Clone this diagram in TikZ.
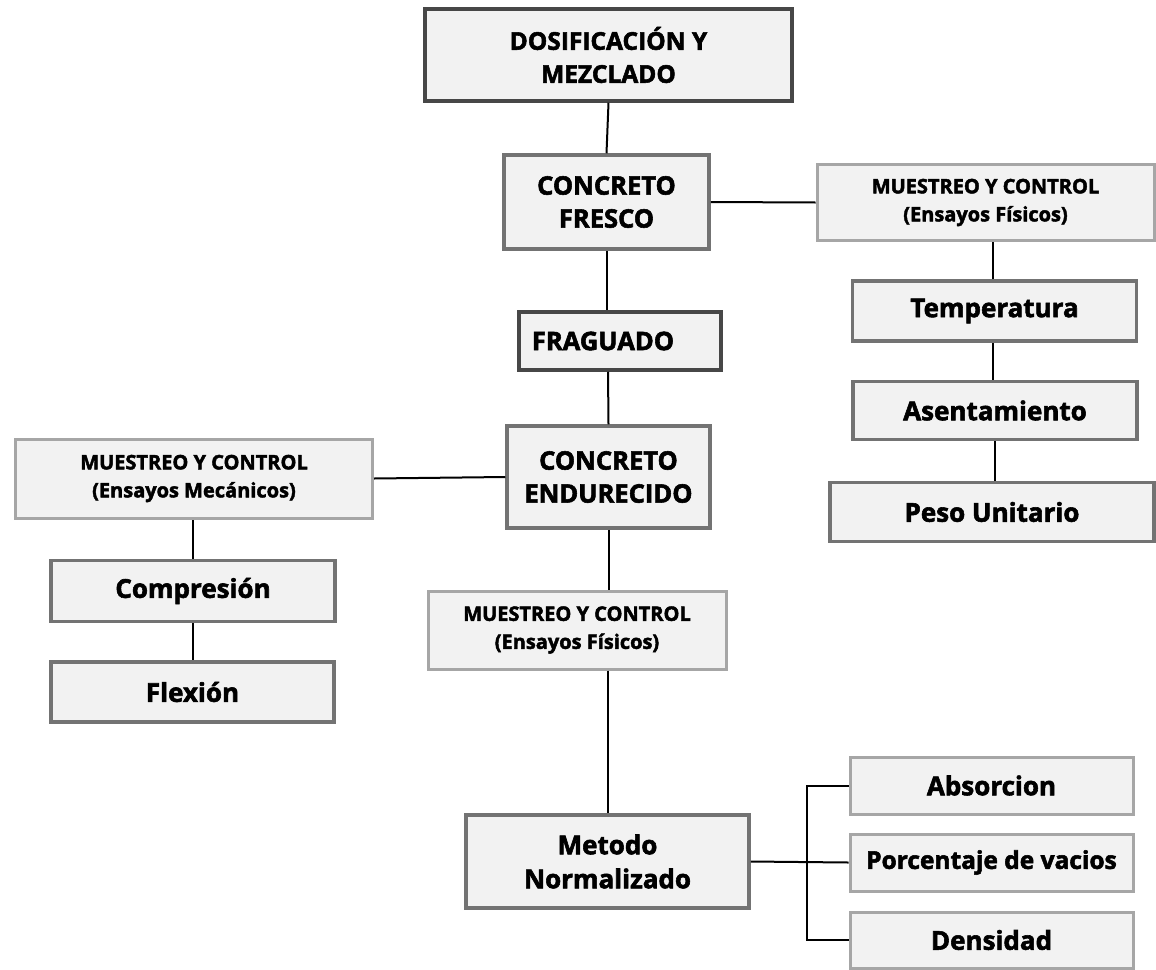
\documentclass[tikz,border=0pt]{standalone}
\usepackage{fontspec}
\setmainfont{Open Sans}[BoldFeatures={FakeBold=2.2}]
\definecolor{boxfill}{HTML}{F2F2F2}
\definecolor{bdark}{HTML}{474747}
\definecolor{bmid}{HTML}{737373}
\definecolor{blight}{HTML}{A6A6A6}
\tikzset{
  box/.style={draw, fill=boxfill, line width=3.5pt, inner sep=0pt, align=center, font=\bfseries},
  boxdark/.style={box, draw=bdark},
  boxmid/.style={box, draw=bmid},
  boxlight/.style={box, draw=blight, line width=3pt},
  big/.style={font=\bfseries\fontsize{25.5}{33}\selectfont},
  med/.style={font=\bfseries\fontsize{26}{34}\selectfont},
  small/.style={font=\bfseries\fontsize{20}{28}\selectfont},
  conn/.style={line width=2pt, draw=black}
}
\begin{document}
\begin{tikzpicture}[x=1pt,y=-1pt]
\useasboundingbox (0,0) rectangle (1156,969);
\fill[white] (0,0) rectangle (1156,969);
% center column
\node[boxdark,big,font=\bfseries\fontsize{24.5}{33}\selectfont,minimum width=367pt,minimum height=92pt] (dos) at (608.5,55) {DOSIFICACIÓN Y\\MEZCLADO};
\node[boxmid,big,minimum width=205pt,minimum height=94pt] (cf) at (606.5,202) {CONCRETO\\FRESCO};
\node[boxdark,big,minimum width=202pt,minimum height=58pt] (frag) at (620,341) {FRAGUADO\hspace*{34pt}};
\node[boxmid,big,minimum width=203pt,minimum height=102pt] (ce) at (608.5,477) {CONCRETO\\ENDURECIDO};
\node[boxlight,small,minimum width=298pt,minimum height=78pt] (mm) at (577,630) {MUESTREO Y CONTROL\\(Ensayos Físicos)};
\node[boxmid,med,minimum width=283pt,minimum height=93pt] (met) at (607.5,861.5) {Metodo\\Normalizado};
% right column
\node[boxlight,small,minimum width=337pt,minimum height=76pt] (mr) at (985.5,202.5) {MUESTREO Y CONTROL\\(Ensayos Físicos)};
\node[boxmid,med,minimum width=284pt,minimum height=60pt] (temp) at (994.5,311) {Temperatura};
\node[boxmid,med,minimum width=284pt,minimum height=58pt] (asen) at (995,410.5) {Asentamiento};
\node[boxmid,med,minimum width=324pt,minimum height=59pt] (peso) at (992,512) {Peso Unitario};
% left column
\node[boxlight,small,minimum width=357pt,minimum height=79pt] (ml) at (194,478.5) {MUESTREO Y CONTROL\\(Ensayos Mecánicos)};
\node[boxmid,med,minimum width=284pt,minimum height=61pt] (comp) at (193,591) {Compresión};
\node[boxmid,med,minimum width=283pt,minimum height=60pt] (flex) at (192.5,692) {Flexión};
% bottom right
\node[boxlight,med,minimum width=283pt,minimum height=57pt] (abs) at (991.5,785.5) {Absorcion};
\node[boxlight,med,font=\bfseries\fontsize{24.5}{34}\selectfont,minimum width=283pt,minimum height=57pt] (por) at (991.5,862.5) {Porcentaje de vacios};
\node[boxlight,med,minimum width=283pt,minimum height=56pt] (den) at (991.5,940) {Densidad};
% connectors
\draw[conn] (dos.south) -- (cf.north);
\draw[conn] (cf.east) -- (mr.west);
\draw[conn] (cf.south -| 607,0) -- (frag.north -| 607,0);
\draw[conn] (frag.south -| 608,0) -- (ce.north);
\draw[conn] (ce.west) -- (ml.east);
\draw[conn] (ce.south) -- (mm.north -| ce.south);
\draw[conn] (mm.south -| met.north) -- (met.north);
\draw[conn] (temp.north -| 993,0) -- (mr.south -| 993,0);
\draw[conn] (temp.south -| 993,0) -- (asen.north -| 993,0);
\draw[conn] (asen.south -| 995,0) -- (peso.north -| 995,0);
\draw[conn] (comp.north) -- (ml.south -| comp.north);
\draw[conn] (comp.south) -- (flex.north -| comp.south);
\draw[conn] (met.east) -- (por.west);
\draw[conn] (abs.west) -- ++(-42,0) coordinate (bk) -- (bk |- den.west) -- (den.west);
\end{tikzpicture}
\end{document}
